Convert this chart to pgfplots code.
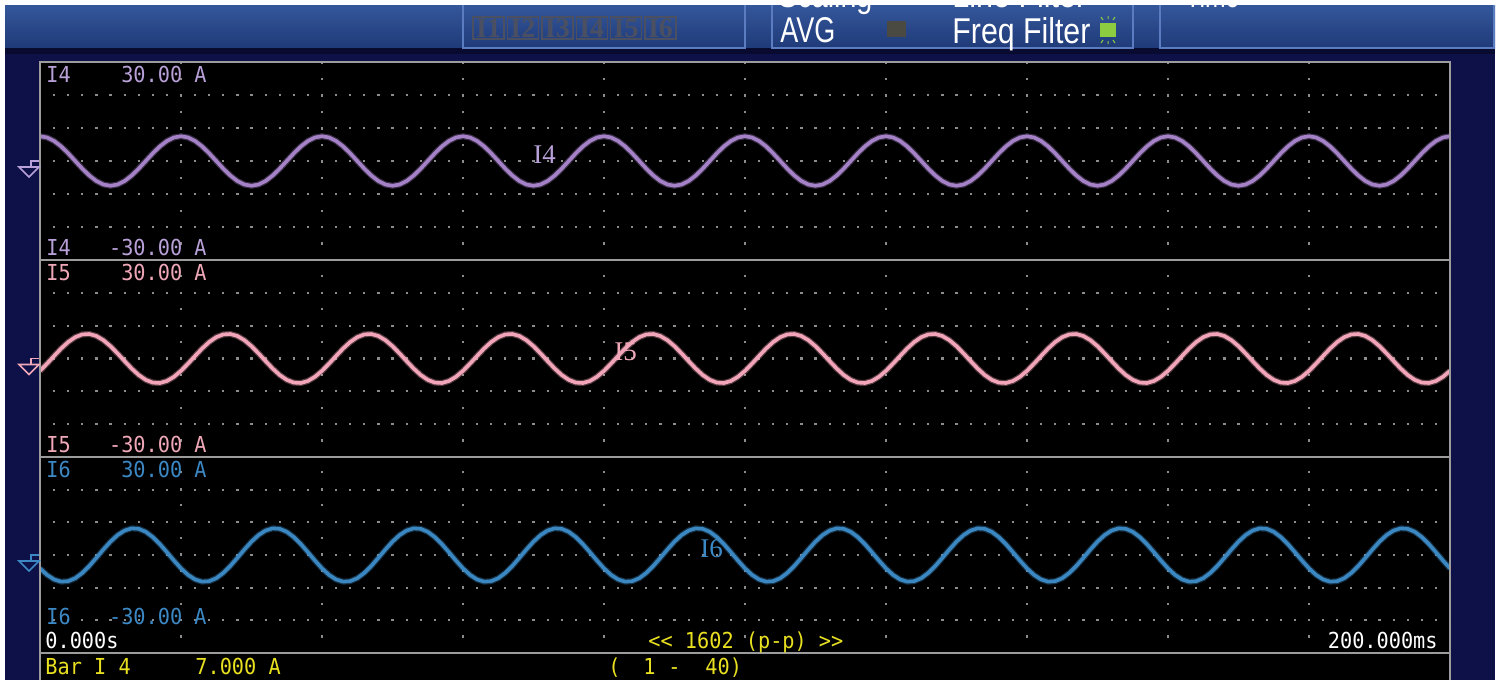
\documentclass[border=0pt]{standalone}
\usepackage{fontspec}
\usepackage{graphicx}
\usepackage{pgfplots}
\usepackage{pgfplotstable}
\pgfplotsset{compat=1.18}
\newfontfamily\monof[FakeStretch=0.92]{DejaVu Sans Mono}
\newfontfamily\hdrf{Liberation Sans}
\newfontfamily\serf{Liberation Serif}
\definecolor{navy}{HTML}{0E1148}
\definecolor{navydark}{HTML}{080A30}
\definecolor{hdrtop}{HTML}{34579B}
\definecolor{hdrbot}{HTML}{1F3A78}
\definecolor{boxline}{HTML}{5B7CC0}
\definecolor{framegray}{HTML}{9C9C9C}
\definecolor{dotgray}{HTML}{8C8C8C}
\definecolor{cIfour}{HTML}{A582C8}
\definecolor{cIfive}{HTML}{F2A5B8}
\definecolor{cIsix}{HTML}{3B87C2}
\definecolor{tIfour}{HTML}{B8A0D8}
\definecolor{tIfive}{HTML}{F0A8B8}
\definecolor{tIsix}{HTML}{3C88C4}
\definecolor{scyellow}{HTML}{E8E020}
\definecolor{dimbox}{HTML}{4A5062}
\definecolor{greenled}{HTML}{8CCC40}
\definecolor{grayled}{HTML}{4A4A42}

\pgfplotstableread{
t i4 i5 i6
0 7.50 -3.75 -4.10
1 7.13 -1.56 -6.09
2 6.07 0.78 -7.49
3 4.41 3.05 -8.16
4 2.32 5.02 -8.02
5 0.00 6.50 -7.10
6 -2.32 7.34 -5.49
7 -4.41 7.46 -3.34
8 -6.07 6.85 -0.86
9 -7.13 5.57 1.70
10 -7.50 3.75 4.10
11 -7.13 1.56 6.09
12 -6.07 -0.78 7.49
13 -4.41 -3.05 8.16
14 -2.32 -5.02 8.02
15 0.00 -6.50 7.10
16 2.32 -7.34 5.49
17 4.41 -7.46 3.34
18 6.07 -6.85 0.86
19 7.13 -5.57 -1.70
20 7.50 -3.75 -4.10
21 7.13 -1.56 -6.09
22 6.07 0.78 -7.49
23 4.41 3.05 -8.16
24 2.32 5.02 -8.02
25 0.00 6.50 -7.10
26 -2.32 7.34 -5.49
27 -4.41 7.46 -3.34
28 -6.07 6.85 -0.86
29 -7.13 5.57 1.70
30 -7.50 3.75 4.10
31 -7.13 1.56 6.09
32 -6.07 -0.78 7.49
33 -4.41 -3.05 8.16
34 -2.32 -5.02 8.02
35 0.00 -6.50 7.10
36 2.32 -7.34 5.49
37 4.41 -7.46 3.34
38 6.07 -6.85 0.86
39 7.13 -5.57 -1.70
40 7.50 -3.75 -4.10
41 7.13 -1.56 -6.09
42 6.07 0.78 -7.49
43 4.41 3.05 -8.16
44 2.32 5.02 -8.02
45 0.00 6.50 -7.10
46 -2.32 7.34 -5.49
47 -4.41 7.46 -3.34
48 -6.07 6.85 -0.86
49 -7.13 5.57 1.70
50 -7.50 3.75 4.10
51 -7.13 1.56 6.09
52 -6.07 -0.78 7.49
53 -4.41 -3.05 8.16
54 -2.32 -5.02 8.02
55 0.00 -6.50 7.10
56 2.32 -7.34 5.49
57 4.41 -7.46 3.34
58 6.07 -6.85 0.86
59 7.13 -5.57 -1.70
60 7.50 -3.75 -4.10
61 7.13 -1.56 -6.09
62 6.07 0.78 -7.49
63 4.41 3.05 -8.16
64 2.32 5.02 -8.02
65 0.00 6.50 -7.10
66 -2.32 7.34 -5.49
67 -4.41 7.46 -3.34
68 -6.07 6.85 -0.86
69 -7.13 5.57 1.70
70 -7.50 3.75 4.10
71 -7.13 1.56 6.09
72 -6.07 -0.78 7.49
73 -4.41 -3.05 8.16
74 -2.32 -5.02 8.02
75 0.00 -6.50 7.10
76 2.32 -7.34 5.49
77 4.41 -7.46 3.34
78 6.07 -6.85 0.86
79 7.13 -5.57 -1.70
80 7.50 -3.75 -4.10
81 7.13 -1.56 -6.09
82 6.07 0.78 -7.49
83 4.41 3.05 -8.16
84 2.32 5.02 -8.02
85 0.00 6.50 -7.10
86 -2.32 7.34 -5.49
87 -4.41 7.46 -3.34
88 -6.07 6.85 -0.86
89 -7.13 5.57 1.70
90 -7.50 3.75 4.10
91 -7.13 1.56 6.09
92 -6.07 -0.78 7.49
93 -4.41 -3.05 8.16
94 -2.32 -5.02 8.02
95 0.00 -6.50 7.10
96 2.32 -7.34 5.49
97 4.41 -7.46 3.34
98 6.07 -6.85 0.86
99 7.13 -5.57 -1.70
100 7.50 -3.75 -4.10
101 7.13 -1.56 -6.09
102 6.07 0.78 -7.49
103 4.41 3.05 -8.16
104 2.32 5.02 -8.02
105 0.00 6.50 -7.10
106 -2.32 7.34 -5.49
107 -4.41 7.46 -3.34
108 -6.07 6.85 -0.86
109 -7.13 5.57 1.70
110 -7.50 3.75 4.10
111 -7.13 1.56 6.09
112 -6.07 -0.78 7.49
113 -4.41 -3.05 8.16
114 -2.32 -5.02 8.02
115 0.00 -6.50 7.10
116 2.32 -7.34 5.49
117 4.41 -7.46 3.34
118 6.07 -6.85 0.86
119 7.13 -5.57 -1.70
120 7.50 -3.75 -4.10
121 7.13 -1.56 -6.09
122 6.07 0.78 -7.49
123 4.41 3.05 -8.16
124 2.32 5.02 -8.02
125 0.00 6.50 -7.10
126 -2.32 7.34 -5.49
127 -4.41 7.46 -3.34
128 -6.07 6.85 -0.86
129 -7.13 5.57 1.70
130 -7.50 3.75 4.10
131 -7.13 1.56 6.09
132 -6.07 -0.78 7.49
133 -4.41 -3.05 8.16
134 -2.32 -5.02 8.02
135 0.00 -6.50 7.10
136 2.32 -7.34 5.49
137 4.41 -7.46 3.34
138 6.07 -6.85 0.86
139 7.13 -5.57 -1.70
140 7.50 -3.75 -4.10
141 7.13 -1.56 -6.09
142 6.07 0.78 -7.49
143 4.41 3.05 -8.16
144 2.32 5.02 -8.02
145 0.00 6.50 -7.10
146 -2.32 7.34 -5.49
147 -4.41 7.46 -3.34
148 -6.07 6.85 -0.86
149 -7.13 5.57 1.70
150 -7.50 3.75 4.10
151 -7.13 1.56 6.09
152 -6.07 -0.78 7.49
153 -4.41 -3.05 8.16
154 -2.32 -5.02 8.02
155 0.00 -6.50 7.10
156 2.32 -7.34 5.49
157 4.41 -7.46 3.34
158 6.07 -6.85 0.86
159 7.13 -5.57 -1.70
160 7.50 -3.75 -4.10
161 7.13 -1.56 -6.09
162 6.07 0.78 -7.49
163 4.41 3.05 -8.16
164 2.32 5.02 -8.02
165 0.00 6.50 -7.10
166 -2.32 7.34 -5.49
167 -4.41 7.46 -3.34
168 -6.07 6.85 -0.86
169 -7.13 5.57 1.70
170 -7.50 3.75 4.10
171 -7.13 1.56 6.09
172 -6.07 -0.78 7.49
173 -4.41 -3.05 8.16
174 -2.32 -5.02 8.02
175 0.00 -6.50 7.10
176 2.32 -7.34 5.49
177 4.41 -7.46 3.34
178 6.07 -6.85 0.86
179 7.13 -5.57 -1.70
180 7.50 -3.75 -4.10
181 7.13 -1.56 -6.09
182 6.07 0.78 -7.49
183 4.41 3.05 -8.16
184 2.32 5.02 -8.02
185 0.00 6.50 -7.10
186 -2.32 7.34 -5.49
187 -4.41 7.46 -3.34
188 -6.07 6.85 -0.86
189 -7.13 5.57 1.70
190 -7.50 3.75 4.10
191 -7.13 1.56 6.09
192 -6.07 -0.78 7.49
193 -4.41 -3.05 8.16
194 -2.32 -5.02 8.02
195 0.00 -6.50 7.10
196 2.32 -7.34 5.49
197 4.41 -7.46 3.34
198 6.07 -6.85 0.86
199 7.13 -5.57 -1.70
200 7.50 -3.75 -4.10
}\wave

\pgfplotsset{scopepanel/.style={anchor=north west, width=705pt, scale only axis,
  xmin=0, xmax=200, ymin=-30, ymax=30, hide axis}}
\tikzset{
  hdot/.style={dotgray, line width=1.1pt, dash pattern=on 1.1pt off 5.95pt, dash phase=0.55pt},
  vdot/.style={dotgray, line width=1.1pt, dash pattern=on 1.1pt off 7.11pt, dash phase=0.55pt},
  mono/.style={inner sep=0pt, anchor=base west, font=\monof\fontsize{11pt}{11pt}\selectfont},
  monor/.style={inner sep=0pt, anchor=base east, font=\monof\fontsize{11pt}{11pt}\selectfont},
  trlab/.style={inner sep=0pt, anchor=base west, font=\serf\fontsize{13.5pt}{13.5pt}\selectfont},
  hdr/.style={inner sep=0pt, anchor=base west, white}
}
\newcommand\panelgrid{%
  \pgfplotsinvokeforeach{-20,-10,0,10,20}{\draw[hdot] (axis cs:0,##1) -- (axis cs:200,##1);}%
  \pgfplotsinvokeforeach{20,40,60,80,100,120,140,160,180}{\draw[vdot] (axis cs:##1,-30) -- (axis cs:##1,30);}%
}

\begin{document}
\begin{tikzpicture}
\useasboundingbox (0,0) rectangle (750pt,-342.5pt);
\fill[white] (0,0) rectangle (750pt,-342.5pt);
\begin{scope}[x=0.5pt,y=-0.5pt]
  % header and body background
  \shade[top color=hdrtop, bottom color=hdrbot] (5,5) rectangle (1495,48);
  \fill[navy] (5,48) rectangle (1495,680);
  \fill[navydark] (5,48) rectangle (1495,54);
  \fill[black] (40,62) rectangle (1450,680);
  % header boxes and partial labels (cut by the top edge of the screen)
  \begin{scope}
    \clip (5,5) rectangle (1495,50);
    \draw[boxline, line width=0.8pt] (463,0) rectangle (745,48);
    \draw[boxline, line width=0.8pt] (772,0) rectangle (1133,48);
    \draw[boxline, line width=0.8pt] (1160,0) rectangle (1494,48);
    \node[hdr] at (778,7) {\resizebox{47pt}{12.5pt}{\hdrf Scaling}};
    \node[hdr] at (952,7) {\resizebox{67pt}{12.5pt}{\hdrf Line Filter}};
    \node[hdr] at (1185,7) {\resizebox{27pt}{12.5pt}{\hdrf Time}};
  \end{scope}
  \foreach \i in {1,...,6}{
    \pgfmathsetmacro\xa{473+34.4*(\i-1)}
    \draw[dimbox, line width=0.7pt] (\xa,17) rectangle ++(31,22);
    \node[dimbox, inner sep=0pt, font=\serf\bfseries\fontsize{14pt}{14pt}\selectfont] at (\xa+15.5,28.5) {I\i};
  }
  \node[hdr] at (780,43) {\resizebox{27.5pt}{12.5pt}{\hdrf AVG}};
  \fill[grayled] (887,21) rectangle (906,37);
  \node[hdr] at (952,43) {\resizebox{69pt}{13pt}{\hdrf Freq Filter}};
  \fill[greenled] (1100,23) rectangle (1116,37);
  \draw[greenled, line width=0.5pt] (1101,17)--(1103,20) (1108,16)--(1108,19) (1115,17)--(1113,20)
     (1101,43)--(1103,40) (1108,44)--(1108,41) (1115,43)--(1113,40);
\end{scope}

% ---- I4 panel
\begin{axis}[scopepanel, at={(20pt,-31pt)}, height=99pt]
  \panelgrid
  \addplot[cIfour, line width=3pt, opacity=0.35] table[x=t, y=i4] {\wave};
  \addplot[cIfour, line width=1.8pt] table[x=t, y=i4] {\wave};
\end{axis}
% ---- I5 panel
\begin{axis}[scopepanel, at={(20pt,-130pt)}, height=98.5pt]
  \panelgrid
  \addplot[cIfive, line width=3pt, opacity=0.35] table[x=t, y=i5] {\wave};
  \addplot[cIfive, line width=1.8pt] table[x=t, y=i5] {\wave};
\end{axis}
% ---- I6 panel
\begin{axis}[scopepanel, at={(20pt,-228.5pt)}, height=98pt]
  \panelgrid
  \addplot[cIsix, line width=3pt, opacity=0.35] table[x=t, y=i6] {\wave};
  \addplot[cIsix, line width=1.8pt] table[x=t, y=i6] {\wave};
\end{axis}

\begin{scope}[x=0.5pt,y=-0.5pt]
  % frame and separators
  \draw[framegray, line width=1pt] (40,680) -- (40,62) -- (1450,62) -- (1450,680);
  \draw[framegray, line width=1pt] (40,260) -- (1450,260) (40,457) -- (1450,457) (40,653) -- (1450,653);
  % zero-level markers
  \foreach \lv/\col in {161/tIfour, 358.5/tIfive, 555/tIsix}{
    \draw[\col, line width=0.8pt] (39,\lv) -- (31,\lv) -- (31,\lv+6);
    \draw[\col, line width=0.8pt] (19,\lv+6) -- (39,\lv+6) -- (29,\lv+16) -- cycle;
  }
  % channel readouts
  \node[mono, tIfour] at (46,82) {I4};
  \node[monor, tIfour] at (207,82) {30.00 A};
  \node[mono, tIfour] at (46,255) {I4};
  \node[monor, tIfour] at (207,255) {-30.00 A};
  \node[mono, tIfive] at (46,280) {I5};
  \node[monor, tIfive] at (207,280) {30.00 A};
  \node[mono, tIfive] at (46,452) {I5};
  \node[monor, tIfive] at (207,452) {-30.00 A};
  \node[mono, tIsix] at (46,477) {I6};
  \node[monor, tIsix] at (207,477) {30.00 A};
  \node[mono, tIsix] at (46,624) {I6};
  \node[monor, tIsix] at (207,624) {-30.00 A};
  % trace labels
  \node[trlab, tIfour] at (533,163) {I4};
  \node[trlab, tIfive] at (614,360) {I5};
  \node[trlab, tIsix] at (700,557) {I6};
  % time base and status
  \node[mono, white] at (45,648) {0.000s};
  \node[mono, scyellow] at (648,648) {<< 1602 (p-p) >>};
  \node[monor, white] at (1438,648) {200.000ms};
  \node[mono, scyellow] at (45,674) {Bar I 4};
  \node[mono, scyellow] at (195,674) {7.000 A};
  \node[mono, scyellow] at (608,674) {(};
  \node[mono, scyellow] at (643,674) {1};
  \node[mono, scyellow] at (668,674) {-};
  \node[mono, scyellow] at (705,674) {40)};
\end{scope}
\end{tikzpicture}
\end{document}
